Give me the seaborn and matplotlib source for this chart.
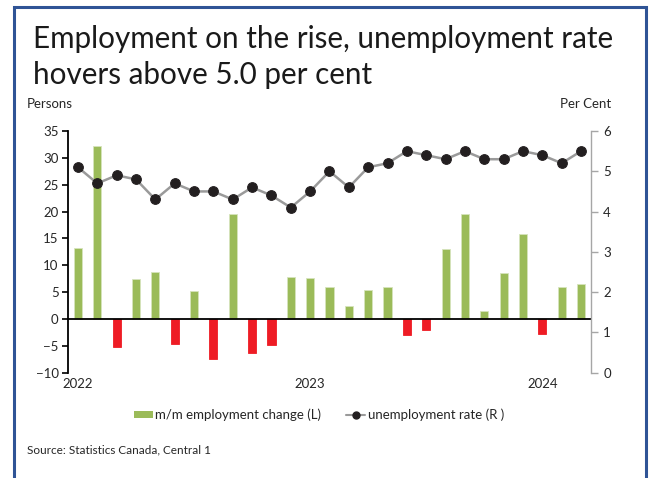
import numpy as np
import pandas as pd
import matplotlib
matplotlib.use("Agg")
import matplotlib.pyplot as plt
from matplotlib.patches import Rectangle, Patch
from matplotlib.lines import Line2D
import seaborn as sns

# Monthly data, Jan 2022 - Mar 2024
months = pd.date_range("2022-01-01", "2024-03-01", freq="MS").strftime("%Y-%m").tolist()
employment_change = [13.2, 32.3, -5.3, 7.4, 8.7, -4.6, 5.3, -7.4, 19.5, -6.3, -4.8, 7.9,
                     7.7, 5.9, 2.5, 5.4, 5.9, -3.0, -2.0, 13.0, 19.6, 1.4, 8.6, 15.9,
                     -2.8, 5.9, 6.6]
unemployment_rate = [5.1, 4.7, 4.9, 4.8, 4.3, 4.7, 4.5, 4.5, 4.3, 4.6, 4.4, 4.1,
                     4.5, 5.0, 4.6, 5.1, 5.2, 5.5, 5.4, 5.3, 5.5, 5.3, 5.3, 5.5,
                     5.4, 5.2, 5.5]
year_labels = {"2022-01": "2022", "2023-01": "2023", "2024-01": "2024"}

title_lines = ["Employment on the rise, unemployment rate", "hovers above 5.0 per cent"]
left_label = "Persons"
right_label = "Per Cent"
bar_legend = "m/m employment change (L)"
line_legend = "unemployment rate (R )"
source = "Source: Statistics Canada, Central 1"

GREEN = "#9BBB59"
RED = "#EE1C25"
LINE_GREY = "#9A9A9A"
DOT = "#231F20"
TEXT = "#262626"
FRAME = "#2F5496"

sns.set_style("white")
plt.rcParams["font.family"] = ["Lato", "DejaVu Sans"]
plt.rcParams["text.color"] = TEXT

df = pd.DataFrame({"month": months, "change": employment_change})
df["sign"] = np.where(df["change"] >= 0, "up", "down")

fig = plt.figure(figsize=(6.54, 4.78), dpi=100)
ax = fig.add_axes([0.1044, 0.2203, 0.9032 - 0.1044, 0.7259 - 0.2203])

sns.barplot(data=df, x="month", y="change", hue="sign", order=months,
            palette={"up": GREEN, "down": RED}, dodge=False, width=0.42,
            saturation=1, linewidth=0.6, legend=False, ax=ax)
# soft light rim on the green bars only
for bar in ax.patches:
    r, g, b, _ = bar.get_facecolor()
    if g > r:
        bar.set_edgecolor("#D6E4BC")
    else:
        bar.set_edgecolor(RED)

ax2 = ax.twinx()
sns.lineplot(x=np.arange(len(months)), y=unemployment_rate, ax=ax2, color=LINE_GREY,
             lw=1.8, marker="o", markersize=7, markerfacecolor=DOT,
             markeredgecolor=DOT, zorder=5)

n = len(months)
ax.set_xlim(-0.5, n - 0.5)
ax2.set_xlim(-0.5, n - 0.5)
ax.set_ylim(-10, 35)
ax.set_yticks(np.arange(-10, 36, 5))
ax2.set_ylim(0, 6)
ax2.set_yticks(np.arange(0, 7, 1))
ax.set_xlabel("")
ax.set_ylabel("")
ax2.set_ylabel("")

# left axis
for s in ["top", "right"]:
    ax.spines[s].set_visible(False)
ax.spines["left"].set_color("black")
ax.spines["left"].set_linewidth(1.3)
ax.spines["bottom"].set_position(("data", 0))
ax.spines["bottom"].set_color("black")
ax.spines["bottom"].set_linewidth(1.3)
ax.set_xticks(np.arange(-0.5, n, 1))
ax.set_xticklabels([])
ax.tick_params(axis="x", direction="out", length=4, width=1.2, color="black")
ax.tick_params(axis="y", direction="out", length=4, width=1.2, color="black",
               labelsize=9.5, labelcolor=TEXT, pad=3)

# right axis
for s in ["top", "left", "bottom"]:
    ax2.spines[s].set_visible(False)
ax2.spines["right"].set_color("#A6A6A6")
ax2.spines["right"].set_linewidth(1.0)
ax2.tick_params(axis="y", direction="out", length=5, width=1.0, color="#A6A6A6",
                labelsize=9.5, labelcolor=TEXT, pad=4)

# year labels under the plot
for i, m in enumerate(months):
    if m in year_labels:
        ax.annotate(year_labels[m], (i, -10), xytext=(0, -4), textcoords="offset points",
                    ha="center", va="top", fontsize=9.5, color=TEXT)

# title and axis captions
W, H = 654, 478
fig.text(33 / W, 1 - 48 / H, title_lines[0], fontsize=21.3, color="#1A1A1A", va="baseline")
fig.text(33 / W, 1 - 84 / H, title_lines[1], fontsize=21.3, color="#1A1A1A", va="baseline")
fig.text(27 / W, 1 - 108 / H, left_label, fontsize=9.5, va="baseline")
fig.text(611 / W, 1 - 108 / H, right_label, fontsize=9.5, va="baseline", ha="right")

handles = [Patch(facecolor=GREEN, edgecolor="none"),
           Line2D([0], [0], color=LINE_GREY, lw=1.5, marker="o", markersize=5,
                  markerfacecolor=DOT, markeredgecolor=DOT)]
fig.legend(handles, [bar_legend, line_legend], loc="center", ncol=2, frameon=False,
           bbox_to_anchor=(319 / W, 1 - 415 / H), fontsize=9.5, handlelength=1.4,
           handletextpad=0.2, columnspacing=1.9, handleheight=0.5)

fig.text(27 / W, 1 - 450 / H, source, fontsize=8.5, va="center")

# blue frame around the panel
fig.add_artist(Rectangle((14 / W, -0.05), (646 - 14) / W, 1 - 7 / H + 0.05,
                         transform=fig.transFigure, fill=False, edgecolor=FRAME,
                         linewidth=2.2, clip_on=False))

fig.savefig("out.png", dpi=100)
